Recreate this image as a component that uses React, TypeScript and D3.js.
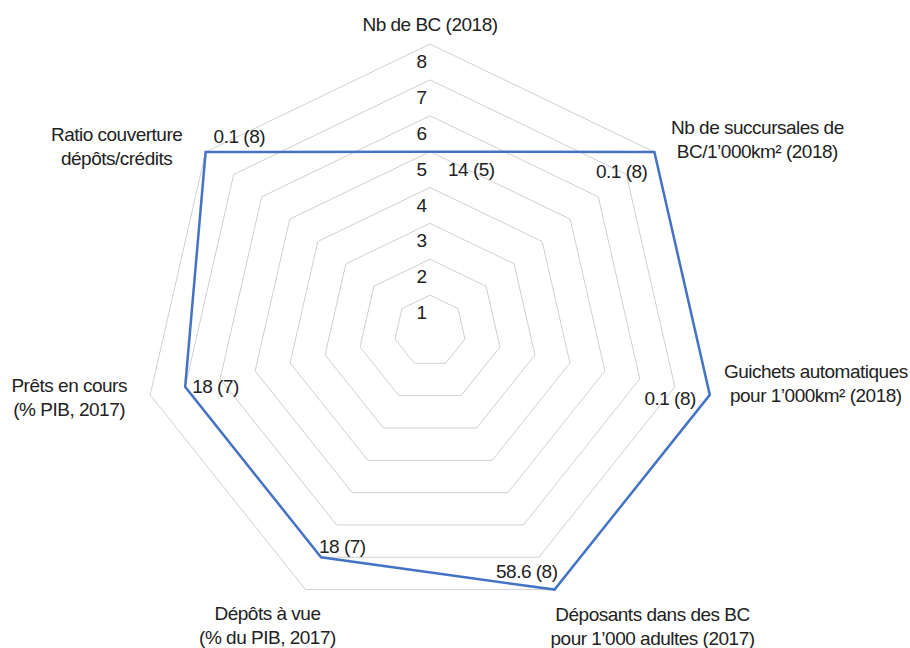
import React, { useEffect, useRef } from 'react';
import * as d3 from 'd3';

// catégories (lignes multiples séparées par \n)
const categories = [
  'Nb de BC (2018)',
  'Nb de succursales de\nBC/1\u2019000km\u00b2 (2018)',
  'Guichets automatiques\npour 1\u2019000km\u00b2 (2018)',
  'Déposants dans des BC\npour 1\u2019000 adultes (2017)',
  'Dépôts à vue\n(% du PIB, 2017)',
  'Prêts en cours\n(% PIB, 2017)',
  'Ratio couverture\ndépôts/crédits',
];
const ranks = [5, 8, 8, 8, 7, 7, 8];
const valueLabels = ['14 (5)', '0.1 (8)', '0.1 (8)', '58.6 (8)', '18 (7)', '18 (7)', '0.1 (8)'];
const ringTicks = [1, 2, 3, 4, 5, 6, 7, 8];

export default function App() {
  const svgRef = useRef<SVGSVGElement>(null);

  useEffect(() => {
    if (!svgRef.current) return;
    const svg = d3.select(svgRef.current);
    svg.selectAll('*').remove();

    const width = 910;
    const height = 648;
    const cx = 430;
    const cy = 331;
    const R = 287;
    const font = '"Liberation Sans Narrow", "Arial Narrow", "Liberation Sans", sans-serif';
    const fs = 19;
    const ls = -0.5;

    const r = d3.scaleLinear().domain([0, 8]).range([0, R]);
    const n = categories.length;
    const angle = (i: number) => (-Math.PI / 2) + (i * 2 * Math.PI) / n;
    const pt = (i: number, v: number): [number, number] => [
      cx + r(v) * Math.cos(angle(i)),
      cy + r(v) * Math.sin(angle(i)),
    ];

    svg.attr('width', width).attr('height', height).attr('viewBox', [0, 0, width, height]);

    const line = d3.line().curve(d3.curveLinearClosed);

    // anneaux
    svg.append('g')
      .selectAll('path')
      .data(ringTicks)
      .join('path')
      .attr('d', (t) => line(d3.range(n).map((i) => pt(i, t))))
      .attr('fill', 'none')
      .attr('stroke', '#d0d0d0')
      .attr('stroke-width', 1);

    // série
    svg.append('path')
      .attr('d', line(ranks.map((v, i) => pt(i, v))))
      .attr('fill', 'none')
      .attr('stroke', '#4472c4')
      .attr('stroke-width', 2.5)
      .attr('stroke-linejoin', 'miter');

    // étiquettes des anneaux
    svg.append('g')
      .selectAll('text')
      .data(ringTicks)
      .join('text')
      .attr('x', cx - 3)
      .attr('y', (t) => pt(0, t)[1] + 24)
      .attr('text-anchor', 'end')
      .attr('font-family', font)
      .attr('font-size', fs)
      .attr('fill', '#222')
      .text((t) => t);

    // étiquettes de données (décalage relatif au point)
    const dataOffsets: [number, number, string][] = [
      [18, 24, 'start'],
      [-7, 26, 'end'],
      [-14, 10, 'end'],
      [3, -12, 'end'],
      [-2, -4, 'start'],
      [7, 6, 'start'],
      [8, -9, 'start'],
    ];
    svg.append('g')
      .selectAll('text')
      .data(valueLabels)
      .join('text')
      .attr('x', (d, i) => pt(i, ranks[i])[0] + dataOffsets[i][0])
      .attr('y', (d, i) => pt(i, ranks[i])[1] + dataOffsets[i][1])
      .attr('text-anchor', (d, i) => dataOffsets[i][2])
      .attr('font-family', font)
      .attr('font-size', fs)
      .attr('letter-spacing', ls)
      .attr('fill', '#222')
      .text((d) => d);

    // catégories (centre horizontal / ligne de base relative au sommet extérieur)
    const catOffsets: [number, number][] = [
      [0, -13],
      [103, -18],
      [106, -17],
      [98, 31],
      [-38, 30],
      [-81, -3],
      [-89, -11],
    ];
    categories.forEach((c, i) => {
      const [x, y] = pt(i, 8);
      const t = svg.append('text')
        .attr('x', x + catOffsets[i][0])
        .attr('y', y + catOffsets[i][1])
        .attr('text-anchor', 'middle')
        .attr('font-family', font)
        .attr('font-size', fs)
        .attr('letter-spacing', ls)
        .attr('fill', '#222');
      c.split('\n').forEach((s, k) => {
        t.append('tspan')
          .attr('x', x + catOffsets[i][0])
          .attr('dy', k === 0 ? 0 : 24)
          .text(s);
      });
    });
  }, []);

  return (
    <div style={{ position: 'absolute', left: 0, top: 0 }}>
      <svg ref={svgRef} style={{ display: 'block', background: '#fff' }} />
    </div>
  );
}
